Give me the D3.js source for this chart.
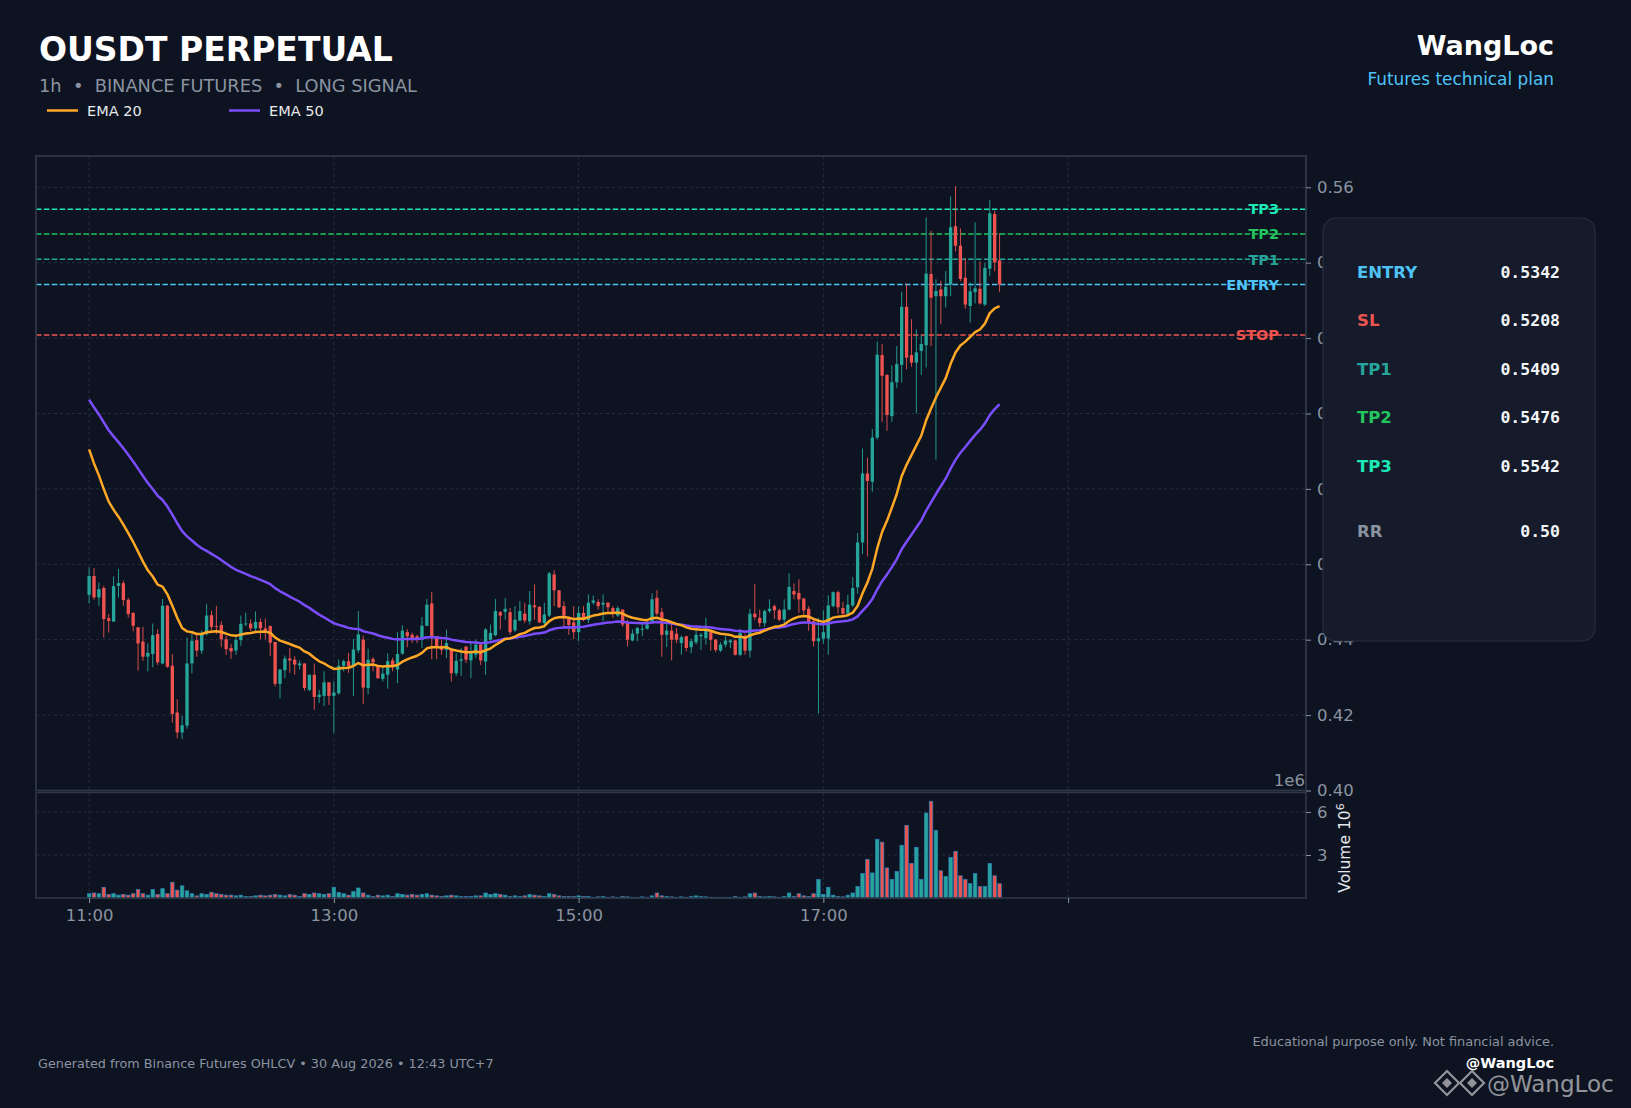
<!DOCTYPE html>
<html>
<head>
<meta charset="utf-8">
<script src="https://cdn.jsdelivr.net/npm/d3@7"></script>
<style>
  html, body { margin: 0; padding: 0; background: #0d1320; }
  svg { display: block; font-family: "DejaVu Sans", sans-serif; }
</style>
</head>
<body>
<svg id="chart"></svg>
<script>
// candles, 25 per hour, first one at 11:00
const opens = [
  .4519,.4569,.4512,.4537,.4457,.4448,.4543,.4550,.4506,.4471,
  .4433,.4395,.4355,.4362,.4415,.4337,.4490,.4331,.4207,.4154,
  .4172,.4337,.4399,.4371,.4415,.4465,.4436,.4439,.4401,.4378,
  .4371,.4399,.4441,.4443,.4430,.4447,.4430,.4436,.4394,.4283,
  .4319,.4350,.4347,.4332,.4337,.4267,.4307,.4248,.4251,.4287,
  .4251,.4258,.4331,.4343,.4331,.4372,.4400,.4272,.4349,.4331,
  .4296,.4307,.4345,.4321,.4363,.4420,.4413,.4409,.4400,.4437,
  .4496,.4409,.4384,.4373,.4373,.4311,.4344,.4382,.4345,.4360,
  .4387,.4342,.4400,.4412,.4473,.4474,.4473,.4425,.4451,.4469,
  .4449,.4491,.4487,.4444,.4464,.4573,.4531,.4489,.4455,.4446,
  .4420,.4471,.4452,.4498,.4500,.4493,.4498,.4484,.4464,.4480,
  .4444,.4398,.4416,.4427,.4429,.4449,.4511,.4473,.4413,.4424,
  .4416,.4391,.4409,.4380,.4393,.4409,.4404,.4420,.4400,.4371,
  .4387,.4393,.4398,.4360,.4409,.4371,.4469,.4458,.4444,.4476,
  .4489,.4478,.4453,.4480,.4529,.4524,.4509,.4482,.4449,.4396,
  .4403,.4403,.4489,.4526,.4484,.4469,.4491,.4539,.4658,.4841,
  .4819,.4936,.5155,.5102,.4993,.5083,.5129,.5283,.5155,.5135,
  .5166,.5181,.5370,.5311,.5329,.5311,.5342,.5497,.5445,.5360,
  .5285,.5322,.5331,.5289,.5384,.5529,.5406
];
const highs = [
  .4592,.4590,.4552,.4543,.4468,.4568,.4588,.4557,.4511,.4473,
  .4433,.4434,.4390,.4443,.4428,.4508,.4492,.4362,.4242,.4198,
  .4406,.4415,.4419,.4424,.4495,.4477,.4490,.4449,.4411,.4389,
  .4411,.4464,.4472,.4454,.4475,.4456,.4456,.4438,.4394,.4321,
  .4358,.4378,.4356,.4345,.4337,.4307,.4337,.4267,.4316,.4287,
  .4289,.4347,.4347,.4365,.4402,.4476,.4411,.4376,.4354,.4331,
  .4329,.4364,.4352,.4420,.4438,.4428,.4418,.4413,.4460,.4508,
  .4527,.4409,.4400,.4427,.4373,.4364,.4378,.4382,.4391,.4400,
  .4391,.4431,.4440,.4508,.4476,.4511,.4484,.4489,.4502,.4498,
  .4529,.4547,.4489,.4498,.4580,.4584,.4531,.4502,.4458,.4489,
  .4489,.4489,.4520,.4517,.4507,.4520,.4500,.4489,.4489,.4480,
  .4453,.4427,.4434,.4444,.4449,.4523,.4531,.4484,.4453,.4449,
  .4431,.4411,.4411,.4402,.4427,.4418,.4458,.4422,.4402,.4393,
  .4409,.4402,.4400,.4429,.4416,.4482,.4547,.4480,.4480,.4507,
  .4493,.4482,.4507,.4576,.4549,.4560,.4511,.4489,.4453,.4458,
  .4478,.4518,.4528,.4530,.4500,.4519,.4566,.4683,.4907,.4883,
  .4959,.5191,.5184,.5105,.5128,.5179,.5323,.5345,.5250,.5223,
  .5208,.5520,.5485,.5356,.5352,.5378,.5576,.5603,.5491,.5412,
  .5348,.5507,.5403,.5399,.5566,.5538,.5478
];
const lows = [
  .4496,.4506,.4490,.4406,.4419,.4448,.4512,.4490,.4459,.4422,
  .4318,.4344,.4316,.4327,.4333,.4335,.4326,.4180,.4139,.4136,
  .4164,.4311,.4355,.4362,.4411,.4424,.4415,.4380,.4360,.4349,
  .4360,.4384,.4436,.4423,.4423,.4401,.4401,.4356,.4276,.4245,
  .4298,.4312,.4307,.4321,.4265,.4263,.4214,.4232,.4224,.4227,
  .4153,.4254,.4316,.4312,.4250,.4365,.4230,.4255,.4316,.4296,
  .4289,.4270,.4316,.4285,.4360,.4380,.4391,.4391,.4378,.4436,
  .4348,.4348,.4360,.4351,.4289,.4304,.4304,.4338,.4298,.4351,
  .4333,.4307,.4391,.4409,.4427,.4453,.4413,.4420,.4449,.4444,
  .4440,.4453,.4444,.4434,.4460,.4489,.4484,.4434,.4413,.4402,
  .4396,.4449,.4444,.4493,.4480,.4449,.4471,.4458,.4460,.4434,
  .4382,.4396,.4396,.4409,.4427,.4444,.4464,.4355,.4380,.4345,
  .4391,.4360,.4369,.4364,.4387,.4373,.4387,.4371,.4367,.4367,
  .4380,.4378,.4358,.4356,.4360,.4353,.4453,.4434,.4434,.4471,
  .4455,.4449,.4444,.4478,.4507,.4471,.4467,.4424,.4382,.4204,
  .4390,.4360,.4486,.4469,.4460,.4464,.4486,.4522,.4627,.4621,
  .4792,.4931,.4978,.4954,.4978,.5067,.5082,.5117,.5124,.5000,
  .5102,.5122,.5179,.4878,.5237,.5281,.5311,.5430,.5351,.5278,
  .5241,.5292,.5289,.5285,.5364,.5377,.5322
];
const closes = [
  .4569,.4512,.4534,.4455,.4450,.4542,.4550,.4505,.4468,.4437,
  .4390,.4355,.4365,.4412,.4340,.4490,.4328,.4203,.4154,.4173,
  .4337,.4397,.4371,.4417,.4464,.4434,.4435,.4401,.4375,.4369,
  .4399,.4442,.4443,.4430,.4447,.4430,.4423,.4392,.4283,.4321,
  .4350,.4345,.4334,.4337,.4272,.4307,.4248,.4254,.4287,.4251,
  .4260,.4331,.4343,.4329,.4374,.4414,.4273,.4347,.4340,.4298,
  .4310,.4343,.4328,.4362,.4424,.4409,.4400,.4400,.4437,.4493,
  .4409,.4380,.4373,.4391,.4311,.4344,.4348,.4347,.4364,.4387,
  .4345,.4427,.4418,.4476,.4464,.4482,.4420,.4453,.4476,.4451,
  .4493,.4486,.4446,.4467,.4576,.4531,.4486,.4464,.4439,.4420,
  .4471,.4452,.4498,.4504,.4489,.4498,.4486,.4473,.4484,.4440,
  .4400,.4416,.4431,.4429,.4440,.4507,.4469,.4413,.4424,.4400,
  .4400,.4407,.4378,.4396,.4413,.4413,.4427,.4400,.4373,.4387,
  .4398,.4398,.4360,.4418,.4371,.4469,.4460,.4444,.4476,.4482,
  .4478,.4453,.4480,.4540,.4520,.4507,.4478,.4447,.4396,.4404,
  .4420,.4491,.4526,.4486,.4469,.4493,.4537,.4658,.4841,.4821,
  .4936,.5156,.5100,.4996,.5083,.5131,.5283,.5148,.5135,.5162,
  .5184,.5371,.5307,.5325,.5311,.5336,.5494,.5445,.5357,.5289,
  .5324,.5332,.5292,.5386,.5531,.5401,.5342
];
// volume in millions
const volumes = [
  .30,.35,.30,.75,.25,.30,.20,.25,.20,.30,
  .60,.30,.20,.60,.25,.65,.30,1.10,.55,.85,
  .50,.30,.15,.30,.25,.40,.30,.25,.20,.20,
  .15,.20,.10,.10,.15,.20,.15,.20,.25,.20,
  .15,.25,.20,.10,.30,.25,.35,.30,.25,.30,
  .75,.40,.30,.20,.45,.70,.35,.20,.10,.20,
  .15,.20,.10,.30,.25,.20,.25,.20,.25,.30,
  .20,.15,.10,.15,.20,.15,.10,.10,.10,.15,
  .15,.35,.25,.30,.25,.20,.10,.15,.10,.15,
  .25,.20,.15,.10,.30,.25,.15,.10,.10,.10,
  .15,.10,.10,.05,.08,.10,.05,.08,.05,.10,
  .08,.05,.05,.08,.05,.15,.35,.15,.10,.08,
  .05,.08,.05,.10,.15,.10,.08,.05,.05,.05,
  .05,.05,.10,.05,.08,.30,.35,.10,.08,.10,
  .08,.05,.10,.35,.10,.30,.15,.10,.30,1.30,
  .25,.75,.20,.10,.08,.20,.35,.80,1.70,2.70,
  1.75,4.10,3.90,2.10,1.30,1.85,3.68,5.07,2.42,3.54,
  1.30,5.93,6.75,4.72,1.90,1.50,2.84,3.26,1.55,1.30,
  1.00,1.70,0.80,0.80,2.40,1.55,1.00
];

// EMA values on the first candle (history before the window)
const ema20Start = 0.4905;
const ema50Start = 0.5037;

const timeTicks = [0, 50, 100, 150, 200];
const timeLabels = ["11:00", "13:00", "15:00", "17:00", ""];
const priceTicks = [0.40, 0.42, 0.44, 0.46, 0.48, 0.50, 0.52, 0.54, 0.56];
const volumeTicks = [3, 6];

const levelNames = ["TP3", "TP2", "TP1", "ENTRY", "STOP"];
const levelValues = [0.5542, 0.5476, 0.5409, 0.5342, 0.5208];
const levelColors = ["#1de9b6", "#22c55e", "#26a69a", "#4fc3f7", "#ef5350"];

const panelLabels = ["ENTRY", "SL", "TP1", "TP2", "TP3", "RR"];
const panelValues = ["0.5342", "0.5208", "0.5409", "0.5476", "0.5542", "0.50"];
const panelColors = ["#4fc3f7", "#ef5350", "#26a69a", "#22c55e", "#1de9b6", "#8b93a1"];

const W = 1631, H = 1108;
const UP = "#26a69a", DOWN = "#ef5350", GRID = "#262f3e", MUTED = "#8b93a1";

const svg = d3.select("#chart").attr("width", W).attr("height", H);
svg.append("rect").attr("width", W).attr("height", H).attr("fill", "#0d1320");

const candles = closes.map((c, i) => ({ i, o: opens[i], h: highs[i], l: lows[i], c, v: volumes[i] }));

function ema(values, period, start) {
  const k = 2 / (period + 1);
  let prev = start;
  return values.map((v, i) => {
    if (i > 0) prev = prev + k * (v - prev);
    return prev;
  });
}
const ema20 = ema(closes, 20, ema20Start);
const ema50 = ema(closes, 50, ema50Start);

const plotL = 36, plotR = 1306;
const mainTop = 156, mainBot = 790.5, volTop = 792.5, volBot = 898;

const x = d3.scaleLinear().domain([-10.85, 248.6]).range([plotL, plotR]);
const y = d3.scaleLinear().domain([0.40, 0.5683]).range([mainBot, mainTop]);
const yv = d3.scaleLinear().domain([0, 7.36]).range([volBot, volTop]);
const step = x(1) - x(0);

// grid
const grid = svg.append("g").attr("stroke", GRID).attr("stroke-width", 1).attr("stroke-dasharray", "3,3");
grid.selectAll(".hg").data(priceTicks.filter(d => d > 0.40)).join("line")
  .attr("x1", plotL).attr("x2", plotR).attr("y1", d => y(d)).attr("y2", d => y(d));
grid.selectAll(".vg").data(timeTicks).join("line")
  .attr("x1", d => x(d)).attr("x2", d => x(d)).attr("y1", mainTop).attr("y2", mainBot);
grid.selectAll(".vhg").data(volumeTicks).join("line")
  .attr("x1", plotL).attr("x2", plotR).attr("y1", d => yv(d)).attr("y2", d => yv(d));
grid.selectAll(".vvg").data(timeTicks).join("line")
  .attr("x1", d => x(d)).attr("x2", d => x(d)).attr("y1", volTop).attr("y2", volBot);

// level labels, then the dashed lines over them
svg.append("g").selectAll("text").data(levelNames).join("text")
  .attr("x", 1279).attr("y", (d, i) => y(levelValues[i]))
  .attr("dy", "0.36em").attr("text-anchor", "end")
  .attr("font-size", 14.5).attr("font-weight", "bold")
  .attr("fill", (d, i) => levelColors[i]).text(d => d);
svg.append("g").selectAll("line").data(levelValues).join("line")
  .attr("x1", plotL).attr("x2", plotR).attr("y1", d => y(d)).attr("y2", d => y(d))
  .attr("stroke", (d, i) => levelColors[i]).attr("stroke-width", 1.5)
  .attr("stroke-dasharray", "5.5,2.4");

// candles
const bw = step * 0.68;
const cg = svg.append("g");
cg.selectAll("line").data(candles).join("line")
  .attr("x1", d => x(d.i)).attr("x2", d => x(d.i))
  .attr("y1", d => y(d.h)).attr("y2", d => y(d.l))
  .attr("stroke", d => d.c >= d.o ? UP : DOWN).attr("stroke-width", 0.9);
cg.selectAll("rect").data(candles).join("rect")
  .attr("x", d => x(d.i) - bw / 2).attr("width", bw)
  .attr("y", d => y(Math.max(d.o, d.c)))
  .attr("height", d => Math.max(0.9, Math.abs(y(d.o) - y(d.c))))
  .attr("fill", d => d.c >= d.o ? UP : DOWN);

// EMAs
const line = d3.line().x((d, i) => x(i)).y(d => y(d)).curve(d3.curveLinear);
svg.append("path").datum(ema50).attr("d", line).attr("fill", "none")
  .attr("stroke", "#7c4dff").attr("stroke-width", 2.5).attr("stroke-linejoin", "round");
svg.append("path").datum(ema20).attr("d", line).attr("fill", "none")
  .attr("stroke", "#ffa726").attr("stroke-width", 2.5).attr("stroke-linejoin", "round");

// volume
svg.append("g").selectAll("rect").data(candles).join("rect")
  .attr("x", d => x(d.i) - step * 0.36).attr("width", step * 0.72)
  .attr("y", d => yv(d.v)).attr("height", d => yv(0) - yv(d.v))
  .attr("fill", d => d.c >= d.o ? UP : DOWN)
  .attr("stroke", "#2c7fb8").attr("stroke-width", 0.7);

// frames
svg.append("rect").attr("x", plotL).attr("y", mainTop).attr("width", plotR - plotL).attr("height", mainBot - mainTop)
  .attr("fill", "none").attr("stroke", "#2f3747").attr("stroke-width", 1.8);
svg.append("rect").attr("x", plotL).attr("y", volTop).attr("width", plotR - plotL).attr("height", volBot - volTop)
  .attr("fill", "none").attr("stroke", "#2f3747").attr("stroke-width", 1.6);

// axes
function styleAxis(g) {
  g.select(".domain").remove();
  g.selectAll(".tick line").attr("stroke", MUTED);
  g.selectAll(".tick text").attr("fill", MUTED).attr("font-size", 16.5)
    .attr("font-family", "DejaVu Sans, sans-serif");
}
svg.append("g").attr("transform", `translate(${plotR},0)`)
  .call(d3.axisRight(y).tickValues(priceTicks).tickFormat(d3.format(".2f")).tickSize(5).tickPadding(6))
  .call(styleAxis);
svg.append("g").attr("transform", `translate(${plotR},0)`)
  .call(d3.axisRight(yv).tickValues(volumeTicks).tickFormat(d3.format("d")).tickSize(5).tickPadding(6))
  .call(styleAxis);
svg.append("g").attr("transform", `translate(0,${volBot})`)
  .call(d3.axisBottom(x).tickValues(timeTicks).tickFormat((d, i) => timeLabels[i]).tickSize(5).tickPadding(6))
  .call(styleAxis);

svg.append("text").attr("x", 1305).attr("y", 786).attr("text-anchor", "end")
  .attr("font-size", 16.5).attr("fill", MUTED).text("1e6");
const vl = svg.append("text").attr("transform", "translate(1350,848) rotate(-90)")
  .attr("text-anchor", "middle").attr("font-size", 15.5).attr("fill", "#e3e6eb");
vl.append("tspan").text("Volume  10");
vl.append("tspan").attr("dy", -6).attr("font-size", 11).text("6");

// side panel (drawn over the price labels)
svg.append("rect").attr("x", 1323).attr("y", 218).attr("width", 272).attr("height", 423).attr("rx", 13)
  .attr("fill", "#151b2a").attr("stroke", "#262e3e").attr("stroke-width", 1.2);
const rowY = [277.5, 326, 374.5, 423, 471.5, 536.5];
svg.append("g").selectAll("text").data(panelLabels).join("text")
  .attr("x", 1357).attr("y", (d, i) => rowY[i])
  .attr("font-size", 16.5).attr("font-weight", "bold")
  .attr("fill", (d, i) => panelColors[i]).text(d => d);
svg.append("g").selectAll("text").data(panelValues).join("text")
  .attr("x", 1560).attr("y", (d, i) => rowY[i]).attr("text-anchor", "end")
  .attr("font-family", "DejaVu Sans Mono, monospace")
  .attr("font-size", 16.5).attr("font-weight", "bold")
  .attr("fill", "#f2f4f7").text(d => d);

// header
svg.append("text").attr("x", 39).attr("y", 61).attr("font-size", 33).attr("font-weight", "bold")
  .attr("fill", "#ffffff").text("OUSDT PERPETUAL");
svg.append("text").attr("x", 39).attr("y", 92).attr("font-size", 17.8).attr("fill", MUTED)
  .style("white-space", "pre").text("1h  \u2022  BINANCE FUTURES  \u2022  LONG SIGNAL");
svg.append("text").attr("x", 1554).attr("y", 55).attr("text-anchor", "end")
  .attr("font-size", 27).attr("font-weight", "bold").attr("fill", "#ffffff").text("WangLoc");
svg.append("text").attr("x", 1554).attr("y", 85).attr("text-anchor", "end")
  .attr("font-size", 16.9).attr("fill", "#4fc3f7").text("Futures technical plan");

// legend
const legendNames = ["EMA 20", "EMA 50"];
const legendColors = ["#ffa726", "#7c4dff"];
const legendX = [47, 229];
const lg = svg.append("g").selectAll("g").data(legendNames).join("g")
  .attr("transform", (d, i) => `translate(${legendX[i]},110.5)`);
lg.append("line").attr("x1", 0).attr("x2", 31).attr("stroke", (d, i) => legendColors[i]).attr("stroke-width", 2.5);
lg.append("text").attr("x", 40).attr("y", 5).attr("font-size", 14.5).attr("fill", "#e8eaed").text(d => d);

// footer
svg.append("text").attr("x", 38).attr("y", 1068).attr("font-size", 12.8).attr("fill", MUTED)
  .text("Generated from Binance Futures OHLCV \u2022 30 Aug 2026 \u2022 12:43 UTC+7");
svg.append("text").attr("x", 1554).attr("y", 1046).attr("text-anchor", "end")
  .attr("font-size", 12.9).attr("fill", MUTED).text("Educational purpose only. Not financial advice.");
svg.append("text").attr("x", 1554).attr("y", 1068).attr("text-anchor", "end")
  .attr("font-size", 14.5).attr("font-weight", "bold").attr("fill", "#ffffff").text("@WangLoc");

// watermark
const wm = svg.append("g").attr("opacity", 0.55);
[1447, 1472].forEach(cx => {
  wm.append("path").attr("d", `M${cx},1071 L${cx + 12},1083 L${cx},1095 L${cx - 12},1083 Z`)
    .attr("fill", "none").attr("stroke", "#ffffff").attr("stroke-width", 2.2);
  wm.append("path").attr("d", `M${cx},1078 L${cx + 5},1083 L${cx},1088 L${cx - 5},1083 Z`)
    .attr("fill", "#ffffff");
});
wm.append("text").attr("x", 1487).attr("y", 1092).attr("font-size", 23).attr("fill", "#ffffff").text("@WangLoc");
</script>
</body>
</html>
